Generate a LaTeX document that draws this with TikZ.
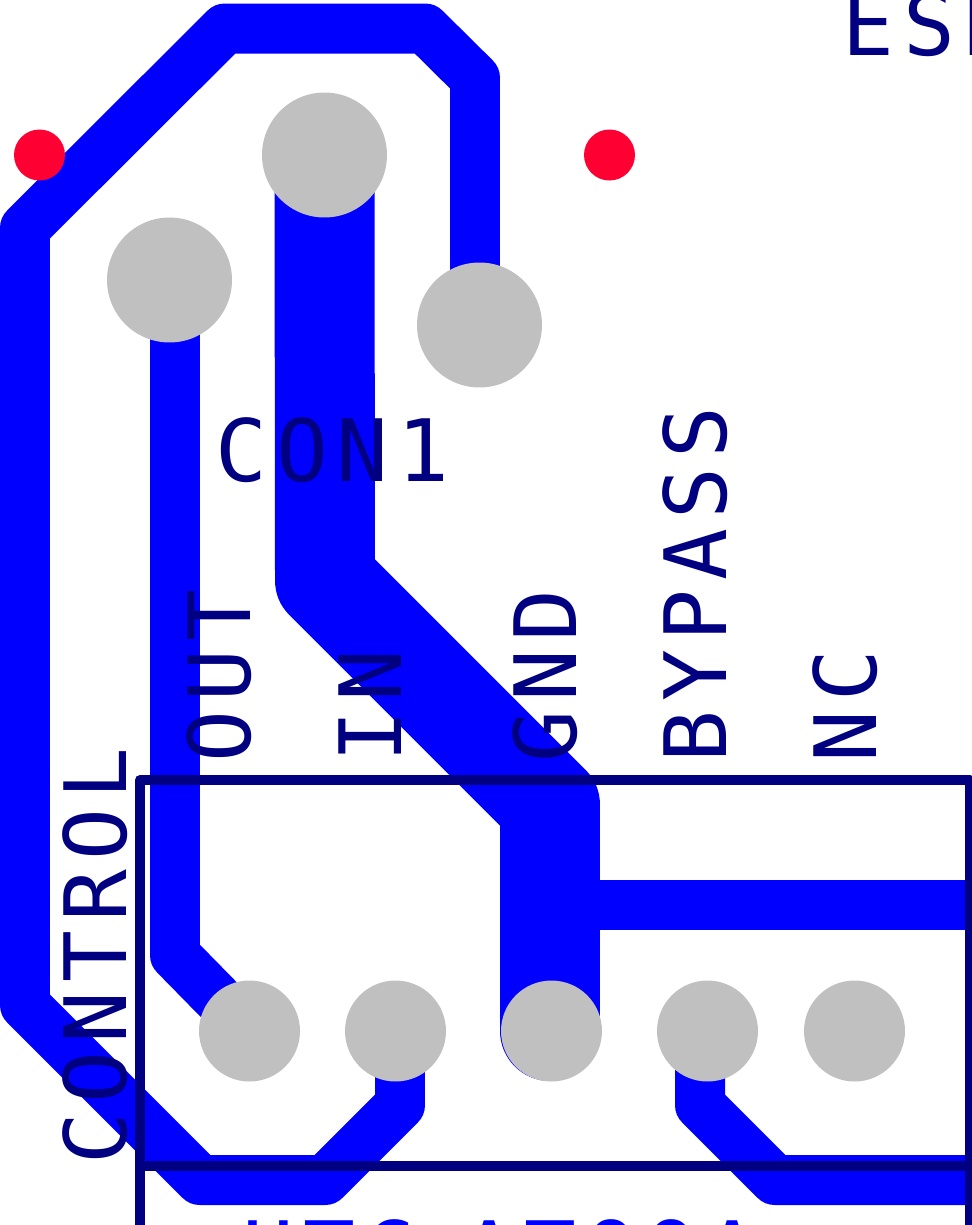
\documentclass[tikz,border=0pt]{standalone}
\usepackage{fontspec}
\usetikzlibrary{backgrounds}
\newfontfamily\silkfont[LetterSpace=10.5]{DejaVu Sans Mono}
\definecolor{tracecol}{HTML}{0000FF}
\definecolor{silkcol}{HTML}{000080}
\definecolor{padcol}{HTML}{C0C0C0}
\definecolor{viacol}{HTML}{FF0033}
\tikzset{
  trace/.style={draw=tracecol,line width=1cm,line join=round,line cap=round},
  widetrace/.style={trace,line width=2cm},
  outline/.style={draw=silkcol,line width=0.2cm,line join=round},
  smallpad/.style={circle,fill=padcol,inner sep=0pt,minimum size=2.02cm},
  bigpad/.style={circle,fill=padcol,inner sep=0pt,minimum size=2.5cm},
  via/.style={circle,fill=viacol,inner sep=0pt,minimum size=1.02cm},
  silk/.style={text=silkcol,font=\silkfont\fontsize{49}{49}\selectfont,inner sep=0pt,anchor=base west},
  bottomsilk/.style={silk,text=tracecol}
}
\begin{document}
\begin{tikzpicture}[x=0.02cm,y=-0.02cm]
\useasboundingbox (0,0) rectangle (972,1225);
\clip (0,0) rectangle (972,1225);

% pads
\node[bigpad] (conout) at (169.5,280) {};
\node[bigpad] (congnd) at (324.5,155) {};
\node[bigpad] (concontrol) at (479.5,325) {};
\node[smallpad] (padout) at (249.5,1031) {};
\node[smallpad] (padin) at (395.5,1031) {};
\node[smallpad] (padgnd) at (551.5,1031) {};
\node[smallpad] (padbypass) at (707.5,1031) {};
\node[smallpad] (padnc) at (854.5,1031) {};
\node[via] (viaa) at (39.5,155) {};
\node[via] (viab) at (609.5,155) {};
\coordinate (edgeb) at (970,905);
\coordinate (edgec) at (970,1180);

% tracks
\begin{scope}[on background layer]
\draw[trace] (concontrol.center) -- (475,325) -- (475,78) -- (425,28.5) -- (225,28.5) -- (25,228) -- (25,1005) -- (200,1180) -- (325,1180) -- (400,1105) -- (400,1031) -- (padin.center);
\draw[trace] (conout.center) -- (175,280) -- (175,955) -- (padout.center);
\draw[widetrace] (congnd.center) -- (325,580) -- (550,805) -- (550,1031);
\draw[trace,line cap=butt] (550,905) -- (edgeb);
\draw[trace] (padbypass.center) -- (700,1031) -- (700,1105) -- (775,1180) -- (edgec);
\end{scope}

% board outline
\draw[outline] (140,1225) -- (140,780) -- (970,780) -- (970,1225);
\draw[outline] (140,1165.5) -- (970,1165.5);

% labels
\node[silk] (lblcon) at (215,481) {CON1};
\node[silk] (lblesd) at (842,55) {ESD};
\node[silk,rotate=90] (lblcontrol) at (126,1165) {CONTROL};
\node[silk,rotate=90] (lblout) at (250,763) {OUT};
\node[silk,rotate=90] (lblin) at (401,763) {IN};
\node[silk,rotate=90] (lblgnd) at (576,763) {GND};
\node[silk,rotate=90] (lblbypass) at (726,763) {BYPASS};
\node[silk,rotate=90] (lblnc) at (876,763) {NC};
\node[bottomsilk] (lblu) at (242,1283) {UTC};
\node[bottomsilk] (lblv) at (463,1283) {ATOOA};
\end{tikzpicture}
\end{document}
